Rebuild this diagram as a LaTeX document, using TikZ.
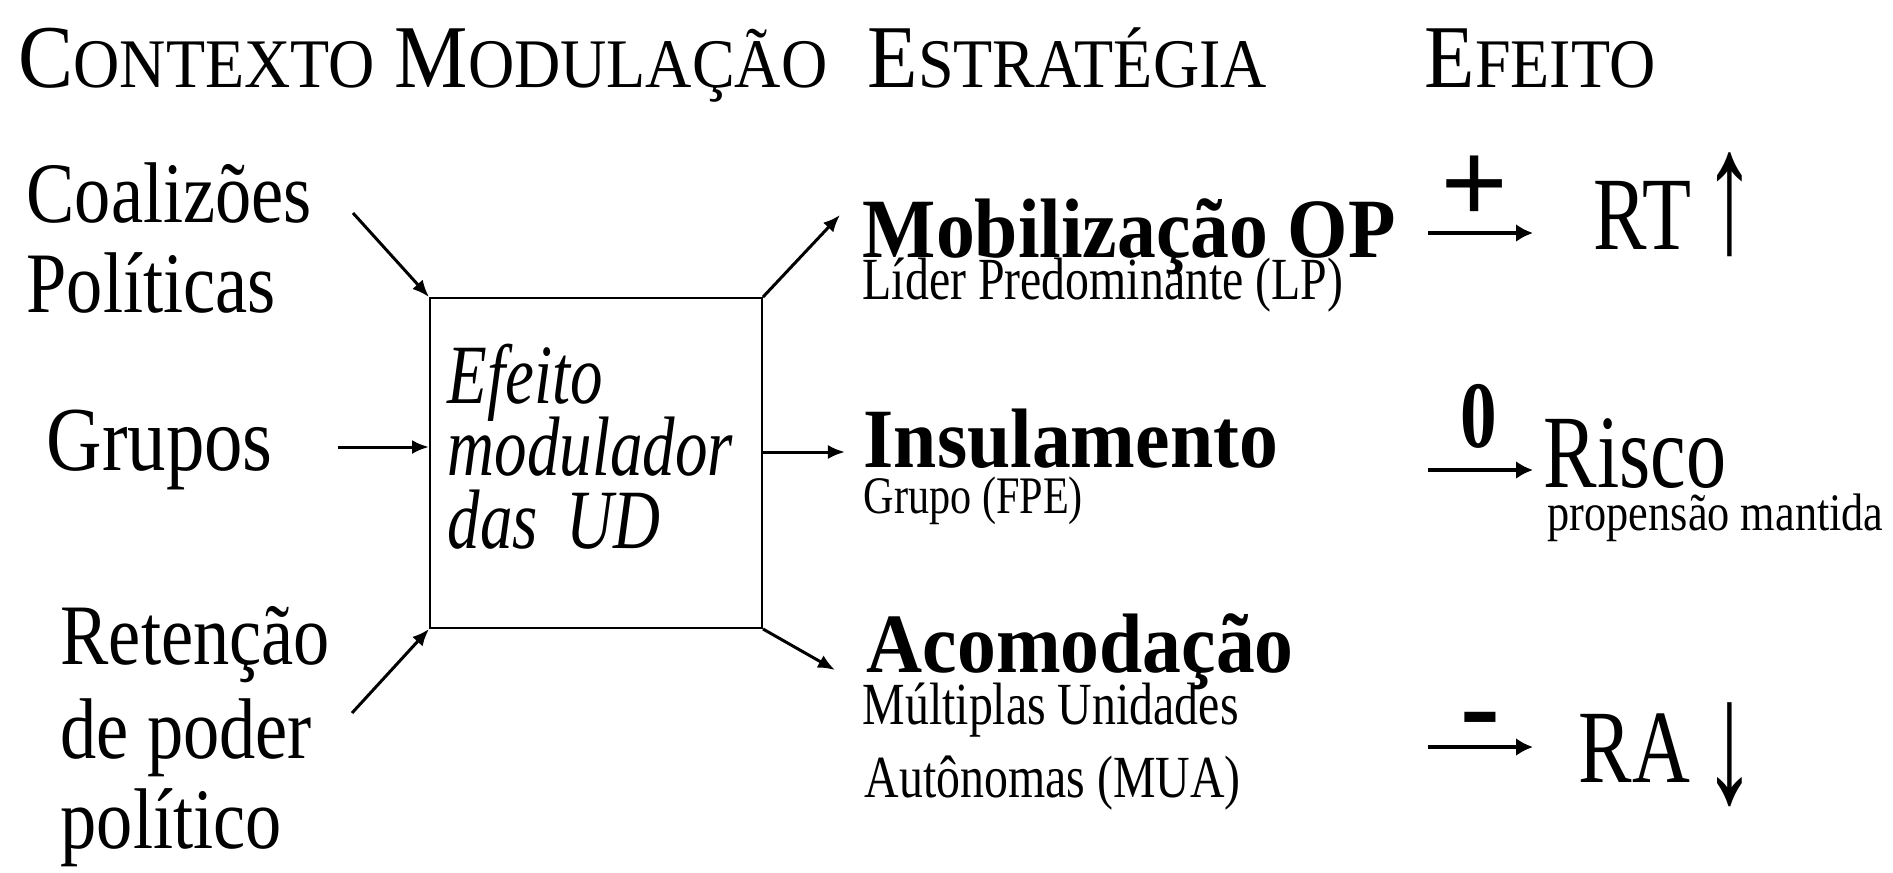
\documentclass[tikz,border=0pt]{standalone}
\usepackage{fontspec}
\setmainfont{Liberation Serif}
\newfontfamily\headfont[FakeStretch=0.92]{Liberation Serif}
\newfontfamily\garafont[FakeStretch=0.84]{Liberation Serif}
\newfontfamily\timesfont[FakeStretch=0.77]{Liberation Serif}
\newfontfamily\boldfont[FakeStretch=0.92]{Liberation Serif}
\newfontfamily\narrowfont[FakeStretch=0.8]{Liberation Serif}
\newfontfamily\arrowfont[FakeStretch=0.6]{Liberation Serif}
\usetikzlibrary{arrows.meta}
\newcommand{\headword}[2]{{\fontsize{25.5}{30}\selectfont #1}{\fontsize{19.8}{24}\selectfont #2}}
\newcommand{\tightlines}{\lineskiplimit=-20pt\relax}
\tikzstyle{header} = [anchor=base west,inner sep=0pt,font=\headfont]
\tikzstyle{context} = [anchor=base west,inner sep=0pt,font=\garafont\fontsize{24.5}{29}\selectfont]
\tikzstyle{strategy} = [anchor=base west,inner sep=0pt,font=\boldfont\bfseries\fontsize{24}{29}\selectfont]
\tikzstyle{detail} = [anchor=base west,inner sep=0pt,font=\narrowfont\fontsize{17}{20}\selectfont]
\tikzstyle{effect} = [anchor=base west,inner sep=0pt,font=\timesfont\fontsize{29.6}{35}\selectfont]
\tikzstyle{trend} = [inner sep=0pt,font=\arrowfont\fontsize{50}{60}\selectfont]
\tikzstyle{sign} = [inner sep=0pt,font=\bfseries\fontsize{34}{40}\selectfont]
\tikzstyle{flow} = [-{Latex[length=1.7mm,width=1.4mm]},line width=0.85pt]
\tikzstyle{effflow} = [-{Latex[length=1.7mm,width=1.8mm]},line width=1.1pt]
\begin{document}
\begin{tikzpicture}[x=0.01cm,y=-0.01cm]
  \path[fill=white] (0,0) rectangle (1893,872);
  % Column titles
  \node[header] (ctx) at (18,87) {\headword{C}{ONTEXTO}};
  \node[header] (mod) at (394,87) {\headword{M}{ODULAÇÃO}};
  \node[header] (est) at (867,87) {\headword{E}{STRATÉGIA}};
  \node[header] (eff) at (1424,87) {\headword{E}{FEITO}};
  % Context
  \node[context] (coal1) at (26,222) {Coalizões};
  \node[context] (coal2) at (26,312) {Políticas};
  \node[context,font=\garafont\fontsize{26}{30}\selectfont] (grp) at (46,470) {Grupos};
  \node[context] (ret1) at (60,664) {Retenção};
  \node[context] (ret2) at (60,758) {de poder};
  \node[context] (ret3) at (60,848) {político};
  % Modulating box
  \node[draw,line width=0.5pt,minimum width=3.32cm,minimum height=3.30cm,inner xsep=0.18cm,inner ysep=0pt,
        text width=2.96cm,align=left,text depth=17.9mm,
        font=\timesfont\itshape\fontsize{24}{20.7}\selectfont] (box) at (596,463)
        {\tightlines Efeito\\modulador\\das UD};
  \coordinate (coaltail) at (353,213);
  \coordinate (grptail) at (338,447);
  \coordinate (rettail) at (352,713);
  \draw[flow] (coaltail) -- (box.north west);
  \draw[flow] (grptail) -- (grptail -| box.west);
  \draw[flow] (rettail) -- (box.south west);
  % Strategies
  \coordinate (mobhead) at (840,215);
  \coordinate (inshead) at (845,452);
  \coordinate (acohead) at (835,670);
  \draw[flow] (box.north east) -- (mobhead);
  \draw[flow] (inshead -| box.east) -- (inshead);
  \draw[flow] (box.south east) -- (acohead);
  \node[strategy] (mob) at (862,257) {Mobilização OP};
  \node[detail] (mobsub) at (862,299) {Líder Predominante (LP)};
  \node[strategy] (ins) at (863,467) {Insulamento};
  \node[detail,font=\narrowfont\fontsize{15}{18}\selectfont] (inssub) at (863,513) {Grupo (FPE)};
  \node[strategy] (aco) at (866,672) {Acomodação};
  \node[detail] (acosub1) at (862,724) {Múltiplas Unidades};
  \node[detail] (acosub2) at (864,797) {Autônomas (MUA)};
  % Effects
  \node[sign] (plus) at (1475,190) {+};
  \node[sign,anchor=base,font=\timesfont\bfseries\fontsize{27}{32}\selectfont] (zero) at (1479,447) {0};
  \node[sign] (minus) at (1480,729) {-};
  \foreach \y/\n in {233/up,470/keep,747/down} {
    \coordinate (\n from) at (1428,\y);
    \coordinate (\n to) at (1533,\y);
    \draw[effflow] (\n from) -- (\n to);
  }
  \node[effect] (rt) at (1593,249) {RT};
  \node[trend] (rtarrow) at (1730,205) {↑};
  \node[effect] (risco) at (1543,487) {Risco};
  \node[context,font=\garafont\fontsize{15}{18}\selectfont] (prop) at (1547,530) {propensão mantida};
  \node[effect] (ra) at (1578,782) {RA};
  \node[trend] (raarrow) at (1730,755) {↓};
\end{tikzpicture}
\end{document}
